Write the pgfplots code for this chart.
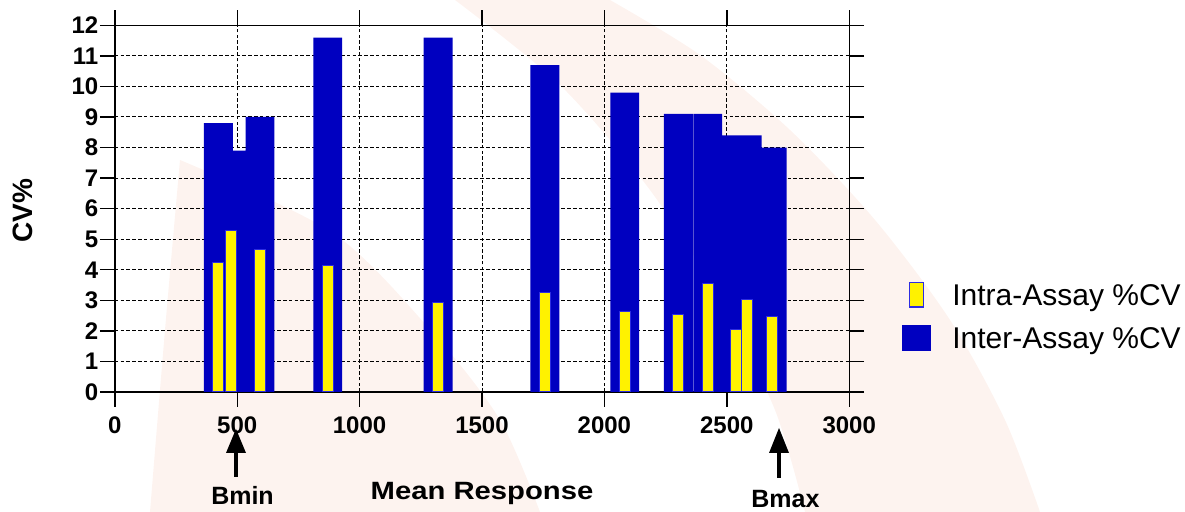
\documentclass[border=0pt]{standalone}
\usepackage{fontspec}
\setmainfont{Liberation Sans}
\usepackage{graphicx}
\usepackage{pgfplots}
\usepackage{pgfplotstable}
\pgfplotsset{compat=1.18}

\definecolor{barblue}{RGB}{0,0,192}
\definecolor{edgeblue}{RGB}{45,45,225}
\definecolor{wm}{RGB}{253,243,239}

% mean response, inter-assay %CV, intra-assay %CV
\pgfplotstableread{
x     inter  intra
423   8.8    4.25
475   7.9    5.27
593   9.0    4.65
870   11.6   4.15
1321  11.6   2.94
1757  10.7   3.25
2083  9.8    2.65
2302  9.1    2.55
2422  9.1    3.56
2537  8.4    2.06
2583  8.4    3.04
2685  8.0    2.46
}\cvdata

\begin{document}
\begin{tikzpicture}
% page frame and faint background swoosh (units: x=0.5pt, y downwards)
\begin{scope}[x=0.5pt,y=-0.5pt]
\useasboundingbox (0,0) rectangle (1185,512);
\fill[wm] plot[smooth] coordinates {(455,0) (560,85) (650,190) (720,300) (775,410) (805,512)}
  -- plot[smooth] coordinates {(1040,512) (1005,420) (950,320) (875,220) (790,130) (700,55) (610,0)} -- cycle;
\fill[wm] plot[smooth] coordinates {(180,160) (333,233) (433,333) (500,420) (540,512)}
  -- plot[smooth] coordinates {(150,512) (165,330) (180,160)} -- cycle;
\end{scope}

\begin{axis}[
  at={(57.4pt,-196pt)}, anchor=south west,
  scale only axis, width=367.2pt, height=183.35pt,
  xmin=0, xmax=3000, ymin=0, ymax=12,
  xtick={0,500,...,3000}, ytick={0,1,...,12},
  tick align=outside, tick pos=both, major tick length=7.5pt,
  axis line style={black, line width=0.7pt},
  every tick/.style={black, line width=0.7pt},
  grid=major,
  major grid style={black, line width=0.5pt, dash pattern=on 1.8pt off 1.1pt},
  scaled x ticks=false,
  /pgf/number format/1000 sep={},
  /pgf/number format/assume math mode=true,
  ticklabel style={font=\bfseries\fontsize{12}{14}\selectfont},
  xticklabel style={yshift=-1.5pt},
  yticklabel style={xshift=2.8pt},
  xlabel={\scalebox{1.17}[1]{Mean Response}},
  xlabel style={at={(axis description cs:0.5,-0.2945)}, anchor=base,
    font=\bfseries\fontsize{12.5}{15}\selectfont},
  ylabel={CV\%},
  ylabel style={at={(axis description cs:-0.125,0.4936)}, anchor=center,
    font=\bfseries\fontsize{14}{16}\selectfont},
  clip=false,
  reverse legend,
  legend cell align=left,
  legend style={draw=none, fill=none, inner sep=0pt, outer sep=0pt,
    at={(1.0715,0.2066)}, anchor=west,
    font=\fontsize{15}{18}\selectfont,
    row sep=8.7pt, column sep=10.5pt,
    nodes={inner sep=0pt, text height=11pt, text depth=0.2pt}},
]
\addplot[ybar, bar shift=0pt, bar width=118, fill=barblue, draw=none,
  legend image code/.code={\fill[barblue] (0pt,-6.4pt) rectangle (14.8pt,6.4pt);}]
  table[x=x, y=inter] {\cvdata};
\addlegendentry{Inter-Assay \%CV}
\addplot[ybar, bar shift=0pt, bar width=44, fill=yellow, draw=edgeblue, line width=0.5pt,
  legend image code/.code={\draw[fill=yellow, draw=edgeblue, line width=0.6pt] (3.9pt,-6.15pt) rectangle (10.9pt,6.15pt);}]
  table[x=x, y=intra] {\cvdata};
\addlegendentry{Intra-Assay \%CV}
\end{axis}

% Bmin / Bmax markers below the axis
\begin{scope}[x=0.5pt,y=-0.5pt]
\draw[line width=2pt] (236,477) -- (236,448);
\fill (236,429) -- (226,453) -- (246,453) -- cycle;
\node[anchor=base, inner sep=0pt, font=\bfseries\fontsize{12.5}{15}\selectfont] at (242.5,505) {Bmin};
\draw[line width=2pt] (779,478) -- (779,450);
\fill (779,428) -- (769,453) -- (789,453) -- cycle;
\node[anchor=base, inner sep=0pt, font=\bfseries\fontsize{12.5}{15}\selectfont] at (785.4,507.5) {Bmax};
\end{scope}
\end{tikzpicture}
\end{document}
